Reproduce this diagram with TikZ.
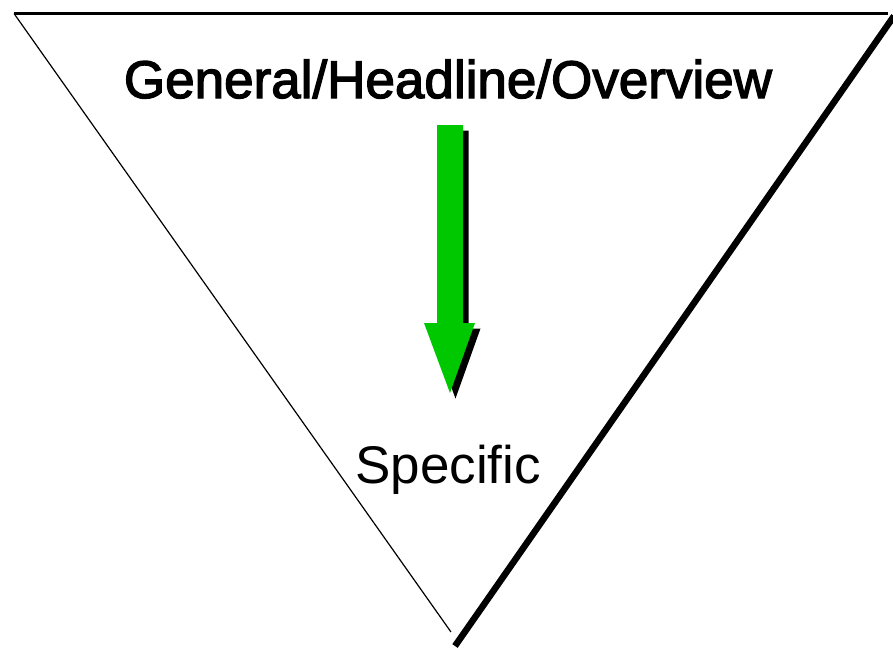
\documentclass[tikz,border=0pt]{standalone}
\usepackage{fontspec}
\setmainfont{Liberation Sans}
\newfontfamily\headfont[FakeBold=2.5]{Liberation Sans}
\definecolor{arrowgreen}{RGB}{0,200,0}
\begin{document}
\begin{tikzpicture}[x=1pt,y=-1pt,
  thinedge/.style={line width=1.2pt},
  thickedge/.style={line width=3.5pt},
  heavyedge/.style={line width=6.5pt},
  label/.style={inner sep=0pt,anchor=base,font=\fontsize{53}{60}\selectfont}]
\useasboundingbox (0,0) rectangle (893,651);
\coordinate (tl) at (14,13.5);
\coordinate (tr) at (888,13.5);
\coordinate (bl) at (451,632);
\coordinate (rt) at (894,16);
\coordinate (rb) at (455,646);
\draw[thickedge] (tl) -- (tr);
\draw[thinedge] (tl) -- (bl);
\draw[heavyedge] (rt) -- (rb);
% arrow shadow
\fill[black, shift={(5.5,5.5)}] (437,125) -- (463,125) -- (463,323) -- (475,323) -- (450,393) -- (424,323) -- (437,323) -- cycle;
% arrow
\fill[arrowgreen] (437,125) -- (463,125) -- (463,323) -- (475,323) -- (450,393) -- (424,323) -- (437,323) -- cycle;
\node[label,font=\fontsize{53}{60}\headfont] (general) at (448,98) {General/Headline/Overview};
\node[label] (specific) at (448,483) {Specific};
\end{tikzpicture}
\end{document}
